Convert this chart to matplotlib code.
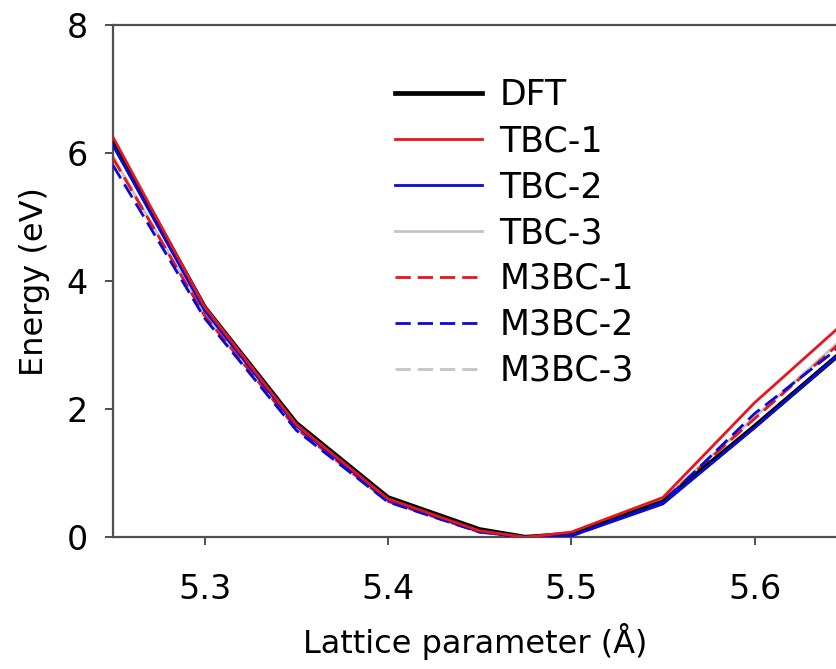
import matplotlib
matplotlib.use("Agg")
import matplotlib.pyplot as plt

# lattice parameter (angstrom)
lattice = [5.25, 5.30, 5.35, 5.40, 5.45, 5.475, 5.50, 5.55, 5.60, 5.65]

# energies (eV)
dft = [6.17, 3.59, 1.78, 0.62, 0.12, 0.00, 0.05, 0.55, 1.73, 2.95]
tbc1 = [6.25, 3.60, 1.76, 0.60, 0.10, 0.00, 0.08, 0.62, 2.10, 3.38]
tbc2 = [6.12, 3.54, 1.74, 0.58, 0.09, 0.00, 0.02, 0.52, 1.71, 2.95]
tbc3 = [5.94, 3.47, 1.71, 0.57, 0.09, 0.00, 0.04, 0.58, 1.87, 3.15]
m3bc1 = [5.92, 3.46, 1.70, 0.56, 0.08, 0.00, 0.03, 0.57, 1.85, 3.12]
m3bc2 = [5.81, 3.42, 1.67, 0.55, 0.08, 0.00, 0.02, 0.54, 1.93, 3.05]
m3bc3 = [5.95, 3.46, 1.70, 0.56, 0.08, 0.00, 0.04, 0.58, 1.87, 3.15]

xticks = [5.3, 5.4, 5.5, 5.6]
yticks = [0, 2, 4, 6, 8]

red = "#e8161c"
blue = "#0a0ad8"
gray = "#c4c4c4"
dash = (0, (5.5, 2.5))
lw = 2.0

plt.rcParams["font.family"] = "DejaVu Sans"

fig = plt.figure(figsize=(8.37, 6.69), dpi=100)
ax = fig.add_axes([0.135, 0.197, 0.865, 0.7655])

ax.plot(lattice, m3bc3, color=gray, lw=lw, ls=dash, label="M3BC-3", zorder=2)
ax.plot(lattice, tbc3, color=gray, lw=lw, label="TBC-3", zorder=2)
ax.plot(lattice, m3bc1, color=red, lw=lw, ls=dash, label="M3BC-1", zorder=3)
ax.plot(lattice, dft, color="black", lw=3.4, label="DFT", zorder=4)
ax.plot(lattice, m3bc2, color=blue, lw=lw, ls=dash, label="M3BC-2", zorder=5)
ax.plot(lattice, tbc2, color=blue, lw=lw, label="TBC-2", zorder=5)
ax.plot(lattice, tbc1, color=red, lw=lw, label="TBC-1", zorder=6)

ax.set_xlim(5.25, 5.645)
ax.set_ylim(0, 8)
ax.set_xticks(xticks)
ax.set_yticks(yticks)
ax.set_xticklabels([f"{t:.1f}" for t in xticks])

for side in ["left", "bottom", "top"]:
    ax.spines[side].set_color("#505050")
    ax.spines[side].set_linewidth(1.6)
ax.spines["right"].set_visible(False)
ax.tick_params(direction="out", length=6, width=1.4, color="#505050",
               labelsize=24)
ax.tick_params(axis="x", pad=20)
ax.tick_params(axis="y", pad=12)

ax.set_xlabel("Lattice parameter (Å)", fontsize=23, labelpad=12)
ax.set_ylabel("Energy (eV)", fontsize=23, labelpad=12)

handles, labels = ax.get_legend_handles_labels()
order = ["DFT", "TBC-1", "TBC-2", "TBC-3", "M3BC-1", "M3BC-2", "M3BC-3"]
hmap = dict(zip(labels, handles))
ax.legend([hmap[k] for k in order], order, loc="upper left",
          bbox_to_anchor=(0.435, 0.930), bbox_transform=fig.transFigure,
          frameon=False, fontsize=25, handlelength=2.5, labelspacing=0.345,
          handletextpad=0.5, borderpad=0.4)

fig.savefig("out.png", dpi=100)
